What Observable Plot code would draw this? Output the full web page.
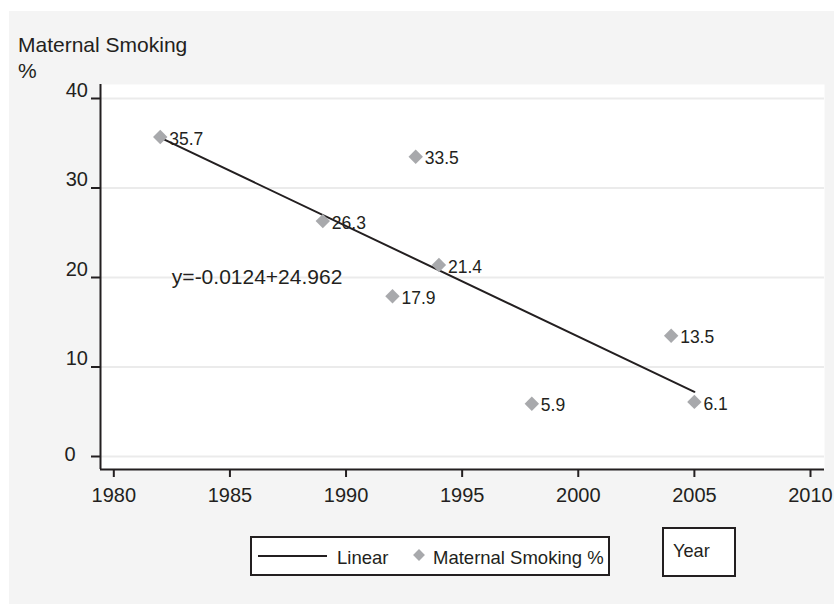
<!DOCTYPE html>
<html>
<head>
<meta charset="utf-8">
<script src="https://cdn.jsdelivr.net/npm/d3@7"></script>
<script src="https://cdn.jsdelivr.net/npm/@observablehq/plot@0.6"></script>
<style>
  html, body { margin: 0; padding: 0; background: #ffffff; }
  body { width: 834px; height: 604px; position: relative; overflow: hidden;
         font-family: "Liberation Sans", Arial, Helvetica, sans-serif; color: #231f20; }
  #bg { position: absolute; left: 9px; top: 11px; right: 0; bottom: 0; background: #f4f4f4; }
  #chart { position: absolute; left: 0; top: 0; }
  #title { position: absolute; left: 18px; top: 31.7px; font-size: 21px; line-height: 26px;
           white-space: nowrap; }
  #legend { position: absolute; left: 250px; top: 536px; width: 360px; height: 40px;
            box-sizing: border-box; border: 2px solid #231f20; background: #fff; }
  #xname { position: absolute; left: 662px; top: 527px; width: 74px; height: 50px;
           box-sizing: border-box; border: 2px solid #231f20; background: #fff;
           font-size: 18.2px; line-height: 20px; padding: 12px 0 0 9px; }
</style>
</head>
<body>
<div id="bg"></div>
<div id="chart"></div>
<div id="title"></div>
<div id="legend"></div>
<div id="xname"></div>
<script>
// ---- data ----
const years = [1982, 1989, 1992, 1993, 1994, 1998, 2004, 2005];
const smoking = [35.7, 26.3, 17.9, 33.5, 21.4, 5.9, 13.5, 6.1];
const xTicks = [1980, 1985, 1990, 1995, 2000, 2005, 2010];
const yTicks = [0, 10, 20, 30, 40];
const titleLines = ["Maternal Smoking", "%"];
const seriesName = "Maternal Smoking %";
const trendName = "Linear";
const xAxisName = "Year";
const equationText = ["y=-0.0124+24.962"];
const equationAt = [1982.5, 20];

const data = years.map((y, i) => ({year: y, value: smoking[i]}));
const xDomain = [1979.427, 2010.603];
const yDomain = [-1.4525, 41.564];
const ink = "#231f20";
const markerColor = "#a8a9ac";

const plot = Plot.plot({
  width: 834,
  height: 604,
  marginLeft: 100,
  marginRight: 10,
  marginTop: 84,
  marginBottom: 135,
  style: { background: "transparent", fontFamily: "'Liberation Sans', Arial, Helvetica, sans-serif", color: ink, overflow: "visible" },
  x: { domain: xDomain },
  y: { domain: yDomain },
  marks: [
    Plot.frame({ fill: "white", stroke: "none" }),
    Plot.gridY(yTicks, { stroke: "#ebebeb", strokeOpacity: 1, strokeWidth: 2 }),
    // axis lines
    Plot.ruleX([xDomain[0]], { stroke: ink, strokeWidth: 2 }),
    Plot.ruleY([yDomain[0]], { stroke: ink, strokeWidth: 2 }),
    // y ticks
    Plot.axisY(yTicks, { tickSize: 9, fill: "none", stroke: ink, strokeWidth: 2, label: null }),
    Plot.axisY(yTicks.filter(d => d !== 0), { tickSize: 9, tickPadding: 3.5, stroke: "none", fill: ink, fontSize: 20, dy: -8, label: null }),
    Plot.axisY(yTicks.filter(d => d === 0), { tickSize: 9, tickPadding: 16, stroke: "none", fill: ink, fontSize: 20, dy: -2.4, label: null }),
    // x axis
    Plot.axisX(xTicks, { tickSize: 8, tickPadding: 10, stroke: ink, strokeWidth: 2, fill: ink, fontSize: 20, tickFormat: d => String(d), label: null }),
    // trend
    Plot.linearRegressionY(data, { x: "year", y: "value", ci: 0, stroke: ink, strokeWidth: 2 }),
    // points
    Plot.dot(data, { x: "year", y: "value", symbol: "diamond2", r: 6.5, fill: markerColor, stroke: "none" }),
    Plot.text(data, { x: "year", y: "value", text: d => d.value.toFixed(1), textAnchor: "start", dx: 9, dy: 2, fontSize: 17.5, fill: ink }),
    // equation annotation
    Plot.text(equationText, { x: () => equationAt[0], y: () => equationAt[1], text: d => d, textAnchor: "start", fontSize: 21, fill: ink })
  ]
});
document.getElementById("chart").appendChild(plot);

document.getElementById("title").innerHTML = titleLines.join("<br>");
document.getElementById("xname").textContent = xAxisName;

// legend
const lg = d3.select("#legend").append("svg").attr("width", 356).attr("height", 36)
  .style("display", "block")
  .style("font-family", "'Liberation Sans', Arial, Helvetica, sans-serif");
lg.append("line").attr("x1", 6).attr("x2", 75).attr("y1", 18).attr("y2", 18)
  .attr("stroke", ink).attr("stroke-width", 2);
lg.append("text").attr("x", 85).attr("y", 25.5).attr("font-size", 18.5).attr("fill", ink).text(trendName);
lg.append("path").attr("d", d3.symbol(d3.symbolDiamond2, 90)()).attr("transform", "translate(167,17)")
  .attr("fill", markerColor);
lg.append("text").attr("x", 181).attr("y", 25.5).attr("font-size", 18.5).attr("fill", ink).text(seriesName);
</script>
</body>
</html>
